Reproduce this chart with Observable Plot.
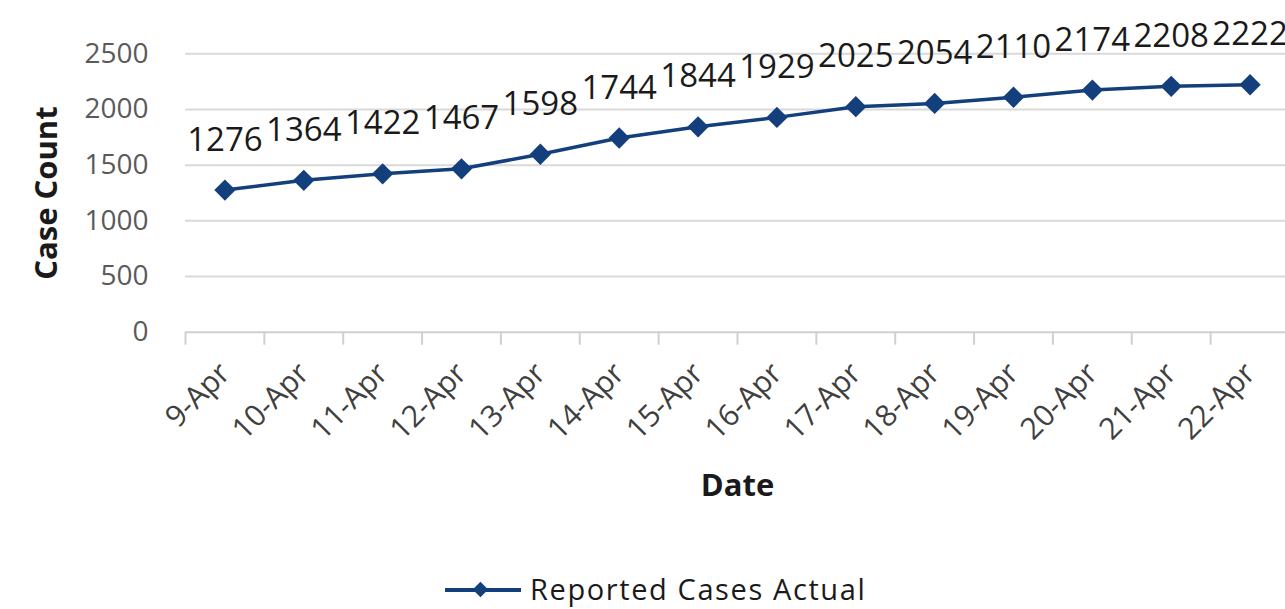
<!DOCTYPE html>
<html>
<head>
<meta charset="utf-8">
<script src="https://cdn.jsdelivr.net/npm/d3@7"></script>
<script src="https://cdn.jsdelivr.net/npm/@observablehq/plot@0.6"></script>
<style>
  html, body { margin: 0; padding: 0; background: #fff; overflow: hidden; }
  #chart { width: 1289px; }
  #legend { position: relative; height: 64px; width: 1285px; font-family: "Open Sans", sans-serif; }
  #legend svg { position: absolute; left: 443px; top: 33px; }
  #legend span { position: absolute; left: 530px; top: 20px; font-size: 29px; letter-spacing: 1.6px; color: #1a1a1a; line-height: 48px; }
</style>
</head>
<body>
<div id="chart"></div>
<div id="legend">
  <svg width="80" height="24"><line x1="2" x2="78" y1="12" y2="12" stroke="#133f7c" stroke-width="4"/><rect x="33" y="5" width="11" height="11" fill="#133f7c" transform="rotate(45 38.5 10.5) translate(0,1.5)"/></svg>
  <span>Reported Cases Actual</span>
</div>
<script>
const dates = ["9-Apr","10-Apr","11-Apr","12-Apr","13-Apr","14-Apr","15-Apr","16-Apr","17-Apr","18-Apr","19-Apr","20-Apr","21-Apr","22-Apr"];
const cases = [1276,1364,1422,1467,1598,1744,1844,1929,2025,2054,2110,2174,2208,2222];
const yTicks = [0,500,1000,1500,2000,2500];

const rows = dates.map((d, i) => ({i, date: d, cases: cases[i]}));
const boundaries = d3.range(dates.length + 1).map(k => k - 0.5);
const color = "#133f7c";
const font = "Open Sans, sans-serif";

const plot = Plot.plot({
  width: 1289,
  height: 545,
  marginTop: 53.3,
  marginBottom: 213.3,
  marginLeft: 185,
  marginRight: 0,
  style: {fontFamily: font, background: "#fff"},
  x: {domain: [-0.5, dates.length - 0.5], axis: null},
  y: {domain: [0, 2500], axis: null},
  marks: [
    Plot.gridY(yTicks.filter(d => d > 0), {stroke: "#d9d9d9", strokeOpacity: 1, strokeWidth: 2}),
    Plot.ruleY([0], {stroke: "#d0d0d0", strokeWidth: 2}),
    Plot.axisY({ticks: yTicks, tickSize: 0, tickPadding: 37, tickFormat: d => String(d), fontSize: 28, color: "#5a5a5a", label: null}),
    Plot.axisX({ticks: boundaries, tickSize: 13, tickFormat: () => "", stroke: "#d0d0d0", strokeWidth: 2, label: null}),
    Plot.axisX({ticks: d3.range(dates.length), tickSize: 0, tickPadding: 36, tickRotate: -45, tickFormat: i => dates[i], fontSize: 30, color: "#404040", label: null}),
    Plot.line(rows, {x: "i", y: "cases", stroke: color, strokeWidth: 3.5}),
    Plot.dot(rows, {x: "i", y: "cases", symbol: "square", r: 8.5, rotate: 45, fill: color}),
    Plot.text(rows, {x: "i", y: "cases", text: d => String(d.cases), dy: -50, fontSize: 33, fill: "#1a1a1a"}),
    Plot.text(["Date"], {frameAnchor: "bottom", dy: 164, fontSize: 31, fontWeight: "bold", fill: "#1a1a1a"}),
    Plot.text(["Case Count"], {frameAnchor: "left", textAnchor: "middle", dx: -138, rotate: -90, fontSize: 31, fontWeight: "bold", fill: "#1a1a1a"})
  ]
});
document.getElementById("chart").appendChild(plot);
</script>
</body>
</html>
